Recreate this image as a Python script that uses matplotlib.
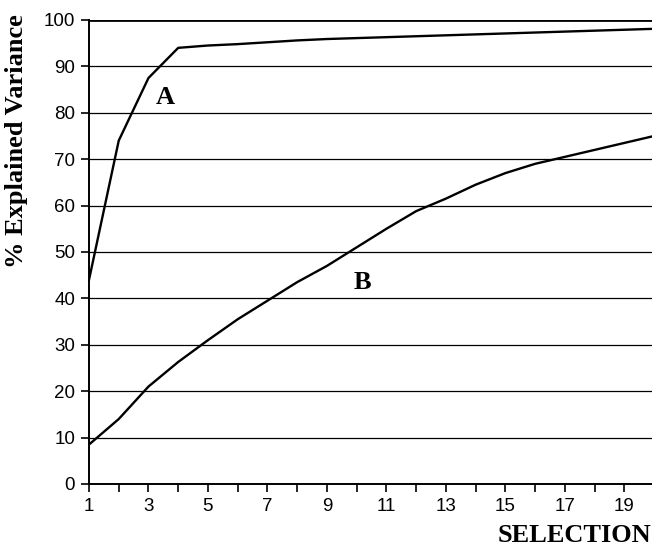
import matplotlib
matplotlib.use("Agg")
import matplotlib.pyplot as plt
import numpy as np

selection = list(range(1, 21))
series_a = [44, 74, 87.5, 94, 94.5, 94.8, 95.2, 95.6, 95.9, 96.1, 96.3, 96.5,
            96.7, 96.9, 97.1, 97.3, 97.5, 97.7, 97.9, 98.1]
series_b = [8.5, 14, 21, 26.3, 31, 35.5, 39.5, 43.5, 47, 51, 55, 58.8,
            61.5, 64.5, 67, 69, 70.5, 72, 73.5, 75]
xtick_labels = [str(v) for v in range(1, 21, 2)]
yticks = list(range(0, 101, 10))

W, H = 652, 547
fig = plt.figure(figsize=(W / 100, H / 100), dpi=100)
ax = fig.add_axes([89 / W, (H - 484) / H, (654 - 89) / W, 464 / H])

for y in yticks[1:]:
    ax.axhline(y, color="black", lw=2.0 if y == 100 else 0.9, zorder=1)

ax.plot(selection, series_a, color="black", lw=1.7, zorder=3)
ax.plot(selection, series_b, color="black", lw=1.7, zorder=3)

ax.set_xlim(1, 20)
ax.set_ylim(0, 100)
ax.set_xticks(selection)
ax.set_xticklabels([str(v) if v % 2 == 1 else "" for v in selection])
ax.set_yticks(yticks)

for s in ["top", "right"]:
    ax.spines[s].set_visible(False)
for s in ["left", "bottom"]:
    ax.spines[s].set_linewidth(1.4)
    ax.spines[s].set_color("black")

ax.tick_params(axis="both", direction="out", length=6, width=1.2, color="black",
               labelsize=13.5, pad=4)
for lbl in ax.get_xticklabels() + ax.get_yticklabels():
    lbl.set_fontfamily("Liberation Sans")

ax.text(3.56, 83.4, "A", fontfamily="Liberation Serif", fontweight="bold",
        fontsize=19, ha="center", va="center")
ax.text(10.2, 43.5, "B", fontfamily="Liberation Serif", fontweight="bold",
        fontsize=19, ha="center", va="center")

fig.text(17 / W, 1 - 141 / H, "% Explained Variance", rotation=90,
         fontfamily="Liberation Serif", fontweight="bold", fontsize=19,
         ha="center", va="center")
fig.text(651 / W, 1 - 535 / H, "SELECTION", fontfamily="Liberation Serif",
         fontweight="bold", fontsize=19, ha="right", va="center")

fig.savefig("out.png", dpi=100)
